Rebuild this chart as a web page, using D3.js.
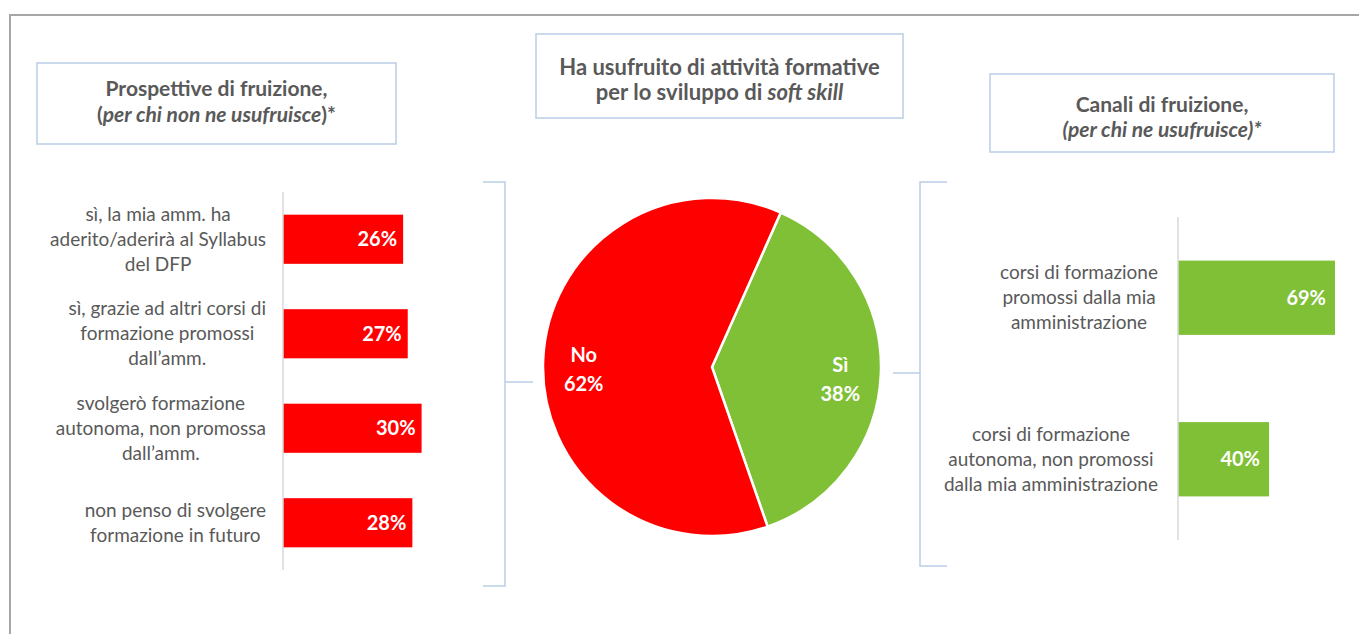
<!DOCTYPE html>
<html lang="it">
  <head>
    <meta charset="utf-8" />
    <title>Soft skill - fruizione</title>
    <style>
      html, body { margin: 0; padding: 0; background: #fff; }
      svg { display: block; font-family: Lato, 'Open Sans', sans-serif; }
      .lbl { fill: #595959; font-size: 19px; }
      .val { fill: #fff; font-size: 20px; font-weight: bold; }
      .ttl { fill: #595959; font-size: 21px; font-weight: bold; }
    </style>
  </head>
  <body>
    <svg></svg>
    <script src="https://d3js.org/d3.v7.min.js"></script>
    <script>
      // data
      const leftCats = [
        ['sì, la mia amm. ha', 'aderito/aderirà al Syllabus', 'del DFP'],
        ['sì, grazie ad altri corsi di', 'formazione promossi', 'dall’amm.'],
        ['svolgerò formazione', 'autonoma, non promossa', 'dall’amm.'],
        ['non penso di svolgere', 'formazione in futuro'],
      ]
      const leftVals = [26, 27, 30, 28]

      const pieCats = ['Sì', 'No']
      const pieVals = [38, 62]

      const rightCats = [
        ['corsi di formazione', 'promossi dalla mia', 'amministrazione'],
        ['corsi di formazione', 'autonoma, non promossi', 'dalla mia amministrazione'],
      ]
      const rightVals = [69, 40]

      const RED = '#ff0000',
        GREEN = '#7fc036',
        BLUE = '#b9cde5'

      let width = 1359,
        height = 634

      let svg = d3.select('svg').attr('width', width).attr('height', height)

      // outer frame (top + left)
      svg.append('path').attr('d', 'M10,634 V15 H1359').attr('fill', 'none').attr('stroke', '#a6a6a6').attr('stroke-width', 2)

      // title boxes
      function titleBox(x, y, w, h, size, lines) {
        let g = svg.append('g')
        g.append('rect').attr('x', x).attr('y', y).attr('width', w).attr('height', h)
          .attr('fill', '#fff').attr('stroke', BLUE).attr('stroke-width', 1.5)
        lines.forEach((parts) => {
          let t = g.append('text').attr('class', 'ttl').style('font-size', size + 'px')
            .attr('x', x + w / 2).attr('y', parts.y).attr('text-anchor', 'middle')
          parts.segs.forEach((s) => {
            t.append('tspan').attr('font-style', s[1] ? 'italic' : 'normal').text(s[0])
          })
        })
      }

      titleBox(37, 63, 359, 81, 21, [
        { y: 96, segs: [['Prospettive di fruizione,', false]] },
        { y: 122, segs: [['(', false], ['per chi non ne usufruisce', true], [')*', false]] },
      ])
      titleBox(536, 34, 367, 84, 22, [
        { y: 75, segs: [['Ha usufruito di attività formative', false]] },
        { y: 100, segs: [['per lo sviluppo di ', false], ['soft skill', true]] },
      ])
      titleBox(990, 74, 344, 78, 21, [
        { y: 112, segs: [['Canali di fruizione,', false]] },
        { y: 137, segs: [['(per chi ne usufruisce)*', true]] },
      ])

      // bar chart helper
      function barChart(cats, vals, opt) {
        let y = d3.scaleBand().domain(d3.range(vals.length)).range([opt.y0, opt.y1]).paddingInner(opt.pad).paddingOuter(opt.pad / 2)
        let x = d3.scaleLinear().domain([0, opt.max]).range([opt.x0, opt.x0 + opt.w])
        let g = svg.append('g')

        g.selectAll('rect').data(vals).join('rect')
          .attr('x', x(0))
          .attr('y', (d, i) => y(i))
          .attr('width', (d) => x(d) - x(0))
          .attr('height', y.bandwidth())
          .attr('fill', opt.color)

        g.append('line')
          .attr('x1', x(0)).attr('x2', x(0))
          .attr('y1', opt.y0).attr('y2', opt.y1)
          .attr('stroke', '#d9d9d9').attr('stroke-width', 1.5)

        g.selectAll('text.val').data(vals).join('text')
          .attr('class', 'val')
          .attr('x', (d) => x(d) - opt.inset)
          .attr('y', (d, i) => y(i) + y.bandwidth() / 2)
          .attr('dy', '0.35em')
          .attr('text-anchor', 'end')
          .text((d) => d + '%')

        cats.forEach((lines, i) => {
          let lg = g.append('g')
          let cy = y(i) + y.bandwidth() / 2
          let maxW = 0
          lines.forEach((l, j) => {
            let t = lg.append('text').attr('class', 'lbl')
              .attr('x', 0)
              .attr('y', cy + (j - (lines.length - 1) / 2) * 25)
              .attr('dy', '0.35em')
              .attr('text-anchor', 'middle')
              .text(l)
            maxW = Math.max(maxW, t.node().getComputedTextLength())
          })
          lg.attr('transform', `translate(${x(0) - opt.gap - maxW / 2},0)`)
        })
      }

      barChart(leftCats, leftVals, { y0: 192, y1: 570, pad: 0.48, x0: 283, w: 138.6, max: 30, color: RED, inset: 6, gap: 17 })
      barChart(rightCats, rightVals, { y0: 217, y1: 540, pad: 0.54, x0: 1178, w: 157, max: 69, color: GREEN, inset: 9, gap: 20 })

      // pie
      const cx = 712,
        cy = 367,
        r = 169
      const a0 = (24 * Math.PI) / 180
      let pie = d3.pie().sort(null).startAngle(a0).endAngle(a0 + 2 * Math.PI)
      let arcs = pie(pieVals)
      let arc = d3.arc().innerRadius(0).outerRadius(r)
      let labelArc = d3.arc().innerRadius(r * 0.76).outerRadius(r * 0.76)
      let pg = svg.append('g').attr('transform', `translate(${cx},${cy})`)
      pg.selectAll('path').data(arcs).join('path')
        .attr('d', arc)
        .attr('fill', (d, i) => (i === 0 ? GREEN : RED))
        .attr('stroke', '#fff').attr('stroke-width', 2.5)
      arcs.forEach((d, i) => {
        let [px, py] = labelArc.centroid(d)
        py += 7
        let t = pg.append('text').attr('class', 'val').attr('text-anchor', 'middle')
          .attr('x', px).attr('y', py)
        t.append('tspan').attr('x', px).attr('dy', '-0.35em').text(pieCats[i])
        t.append('tspan').attr('x', px).attr('dy', '1.45em').text(pieVals[i] + '%')
      })

      // brackets
      let br = svg.append('g').attr('fill', 'none').attr('stroke', BLUE).attr('stroke-width', 1.5)
      br.append('path').attr('d', 'M483,182 H505 V586 H483 M505,382 H533')
      br.append('path').attr('d', 'M947,182 H920 V566 H947 M920,373 H893')
    </script>
  </body>
</html>
